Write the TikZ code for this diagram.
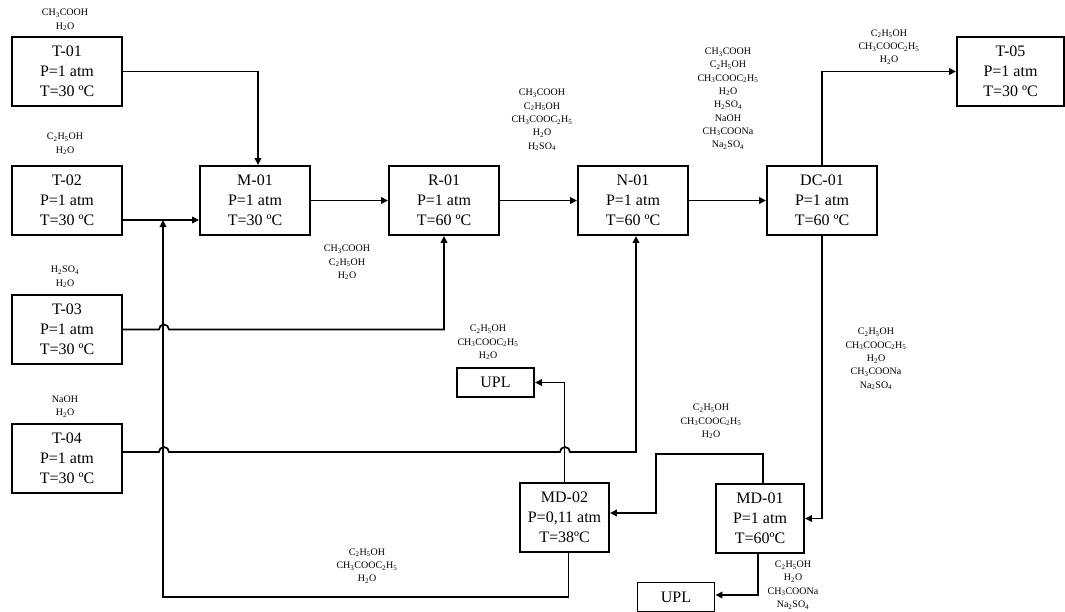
\documentclass[tikz,border=0pt]{standalone}
\usepackage{fontspec}
\setmainfont{Liberation Serif}
\usepackage{tikz}
\usetikzlibrary{arrows.meta,calc}
\newcommand{\cAcid}{CH\textsubscript{3}COOH}
\newcommand{\cEtoh}{C\textsubscript{2}H\textsubscript{5}OH}
\newcommand{\cEster}{CH\textsubscript{3}COOC\textsubscript{2}H\textsubscript{5}}
\newcommand{\cWater}{H\textsubscript{2}O}
\newcommand{\cSulf}{H\textsubscript{2}SO\textsubscript{4}}
\newcommand{\cNaoh}{NaOH}
\newcommand{\cAcNa}{CH\textsubscript{3}COONa}
\newcommand{\cNaso}{Na\textsubscript{2}SO\textsubscript{4}}
\begin{document}
\begin{tikzpicture}[
  x=1pt,y=-1pt,
  every node/.style={align=center},
  unit/.style={draw,line width=1.9pt,minimum width=110pt,minimum height=69pt,inner sep=0pt,font=\fontsize{16}{20}\selectfont},
  col/.style={unit,minimum width=89pt},
  upl/.style={unit,minimum width=77pt,minimum height=29pt},
  comp/.style={inner sep=0pt,font=\fontsize{10}{13.3}\selectfont},
  arr/.style={-{Triangle[length=7pt,width=6.5pt]},line width=1.7pt},
  ln/.style={line width=1.7pt}
]
\useasboundingbox (0,0) rectangle (1065,611);
\node[unit] (t01) at (67,71.5) {T-01\\P=1 atm\\T=30 ºC};
\node[unit] (t02) at (67,200.5) {T-02\\P=1 atm\\T=30 ºC};
\node[unit] (t03) at (67,329.5) {T-03\\P=1 atm\\T=30 ºC};
\node[unit] (t04) at (67,458.5) {T-04\\P=1 atm\\T=30 ºC};
\node[unit] (m01) at (255,200.5) {M-01\\P=1 atm\\T=30 ºC};
\node[unit] (r01) at (444,200.5) {R-01\\P=1 atm\\T=60 ºC};
\node[unit] (n01) at (633,200.5) {N-01\\P=1 atm\\T=60 ºC};
\node[unit] (dc01) at (822,200.5) {DC-01\\P=1 atm\\T=60 ºC};
\node[unit,minimum width=107pt] (t05) at (1010.5,71.5) {T-05\\P=1 atm\\T=30 ºC};
\node[col] (md02) at (564.5,517.5) {MD-02\\P=0,11 atm\\T=38ºC};
\node[col,minimum width=88pt] (md01) at (760,518.5) {MD-01\\P=1 atm\\T=60ºC};
\node[upl] (upl1) at (495.5,382.5) {UPL};
\node[upl] (upl2) at (676,597) {UPL};
\node[comp] (f01) at (65,20) {\cAcid\\\cWater};
\node[comp] (f02) at (65,144) {\cEtoh\\\cWater};
\node[comp] (f03) at (65,277) {\cSulf\\\cWater};
\node[comp] (f04) at (65,406.5) {\cNaoh\\\cWater};
\node[comp] (s01) at (347,262.5) {\cAcid\\\cEtoh\\\cWater};
\node[comp] (s02) at (542,120) {\cAcid\\\cEtoh\\\cEster\\\cWater\\\cSulf};
\node[comp] (s03) at (728,98.5) {\cAcid\\\cEtoh\\\cEster\\\cWater\\\cSulf\\\cNaoh\\\cAcNa\\\cNaso};
\node[comp] (s04) at (889,47) {\cEtoh\\\cEster\\\cWater};
\node[comp] (s05) at (876,359) {\cEtoh\\\cEster\\\cWater\\\cAcNa\\\cNaso};
\node[comp] (s06) at (711,421.5) {\cEtoh\\\cEster\\\cWater};
\node[comp] (s07) at (488,342.5) {\cEtoh\\\cEster\\\cWater};
\node[comp] (s08) at (793,585) {\cEtoh\\\cWater\\\cAcNa\\\cNaso};
\node[comp] (s09) at (367,566) {\cEtoh\\\cEster\\\cWater};
\coordinate (mix) at (163,220);
\coordinate (rcy) at (163,597);
\coordinate (bend) at (656,454);
\draw[arr] (t01.east) -| ($(m01.north)+(3,0)$);
\draw[arr] ($(t02.east)+(0,19.5)$) -- ($(m01.west)+(0,19.5)$);
\draw[arr] ($(md02.south)+(4,0)$) |- (rcy) -- (mix);
\draw[arr] (m01.east) -- (r01.west);
\draw[arr] (r01.east) -- (n01.west);
\draw[arr] (n01.east) -- (dc01.west);
\draw[arr] (t03.east) -- ++(36,0) arc[start angle=180,end angle=360,radius=5] -| (r01.south);
\draw[arr] ($(t04.east)+(0,-6.5)$) -- ++(36,0) arc[start angle=180,end angle=360,radius=5] -- ++(391,0) arc[start angle=180,end angle=360,radius=5] -| ($(n01.south)+(3,0)$);
\draw[arr] (md02.north) |- (upl1.east);
\draw[arr] (dc01.north) |- (t05.west);
\draw[arr] (dc01.south) |- (md01.east);
\draw[arr] ($(md01.north)+(3,0)$) |- (bend) |- ($(md02.east)+(0,-4.5)$);
\draw[arr] ($(md01.south)+(-2,0)$) |- ($(upl2.east)+(0,-2)$);
\end{tikzpicture}
\end{document}
